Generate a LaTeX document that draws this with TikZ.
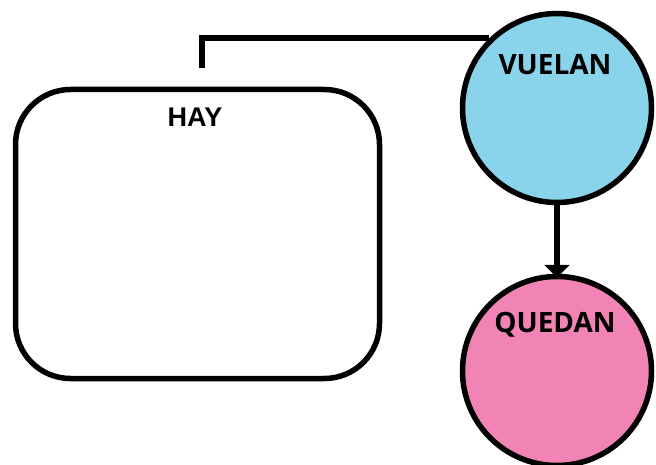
\documentclass[tikz,border=0pt]{standalone}
\usepackage{fontspec}
\setmainfont{Open Sans}
\newfontfamily\arialb{Liberation Sans}
\usetikzlibrary{arrows.meta}
\definecolor{skyfill}{RGB}{137,212,234}
\definecolor{pinkfill}{RGB}{241,132,180}
\begin{document}
\begin{tikzpicture}[x=1pt,y=-1pt,
  edge/.style={line width=5.5pt},
  bubble/.style={circle,draw,line width=5.5pt,minimum size=189pt,inner sep=0pt},
  lbl/.style={font=\fontsize{28}{30}\selectfont\bfseries,inner sep=0pt}]
\useasboundingbox (0,0) rectangle (656,465);
\node[draw,line width=5.5pt,rounded corners=55pt,minimum width=364pt,minimum height=289pt,inner sep=0pt] (hay) at (197.5,234) {};
\node[bubble,fill=skyfill] (vuelan) at (557,108) {};
\node[bubble,fill=pinkfill] (quedan) at (557,371) {};
\node[inner sep=0pt,font=\arialb\fontsize{27}{30}\selectfont\bfseries] (thay) at (195,117.5) {HAY};
\node[lbl] (tvuelan) at (555,65) {VUELAN};
\node[lbl] (tquedan) at (555,325) {QUEDAN};
\coordinate (start) at (202,68);
\draw[edge] (start) |- (vuelan.134);
\draw[edge,-{Triangle[width=25pt,length=13pt]}] (vuelan.south) -- ([yshift=-4pt]quedan.north);
\end{tikzpicture}
\end{document}
